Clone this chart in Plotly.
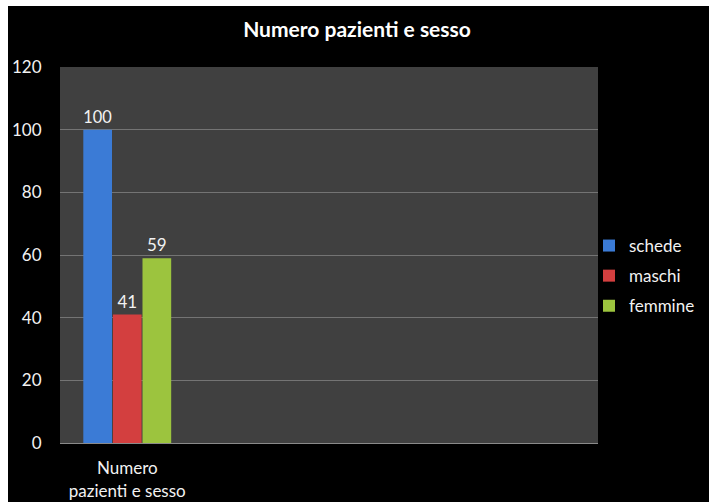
import plotly.graph_objects as go

# Data
category = ["Numero<br>pazienti e sesso"]
series_names = ["schede", "maschi", "femmine"]
series_values = [[100], [41], [59]]
series_colors = ["#3b7bd6", "#d33f3f", "#9cc43e"]
y_ticks = [0, 20, 40, 60, 80, 100, 120]

FONT = "Lato, Open Sans, sans-serif"
TXT = "#f2f2f2"

fig = go.Figure()
for name, vals, col in zip(series_names, series_values, series_colors):
    fig.add_trace(go.Bar(
        x=[0] * len(vals),
        y=vals,
        name=name,
        legendgroup=name,
        marker=dict(color=col, line=dict(color=col, width=0)),
        text=[str(v) for v in vals],
        textposition="outside",
        textfont=dict(color=TXT, size=17, family=FONT),
        cliponaxis=False,
    ))

W, H = 712, 502
ml, mr, mt, mb = 60, 114, 67, 59
pw, ph = W - ml - mr, H - mt - mb


def px_x(x):
    return (x - ml) / pw


def px_y(y):
    return (H - mb - y) / ph


# White page strips around the black chart frame
for x0, x1, y0, y1 in [(-5, 8, -5, H + 5), (709, W + 5, -5, H + 5), (-5, W + 5, -5, 6)]:
    fig.add_shape(
        type="rect", xref="paper", yref="paper", layer="above",
        x0=px_x(x0), x1=px_x(x1), y0=px_y(y1), y1=px_y(y0),
        fillcolor="white", line=dict(width=0),
    )

fig.update_layout(
    width=W, height=H,
    margin=dict(l=ml, r=mr, t=mt, b=mb, autoexpand=False),
    paper_bgcolor="black",
    plot_bgcolor="#404040",
    barmode="group",
    bargap=0.34,
    bargroupgap=0.03,
    title=dict(
        text="<b>Numero pazienti e sesso</b>",
        x=357 / W, xanchor="center",
        y=1 - 30 / H, yanchor="middle",
        font=dict(color="white", size=21, family=FONT),
    ),
    xaxis=dict(
        range=[-0.5, 3.5],
        tickvals=[0], ticktext=category,
        showgrid=False, zeroline=False,
        showline=True, linecolor="#8a8a8a", linewidth=1,
        tickfont=dict(color=TXT, size=17, family=FONT),
        ticks="outside", ticklen=10, tickcolor="rgba(0,0,0,0)",
    ),
    yaxis=dict(
        range=[0, 120],
        tickvals=y_ticks,
        showgrid=True, gridcolor="#747474", gridwidth=1,
        zeroline=False,
        tickfont=dict(color=TXT, size=17, family=FONT),
        ticks="outside", ticklen=14, tickcolor="rgba(0,0,0,0)",
    ),
    legend=dict(
        x=px_x(589), xanchor="left",
        y=px_y(228), yanchor="top",
        bgcolor="rgba(0,0,0,0)",
        font=dict(color=TXT, size=17, family=FONT),
        itemwidth=30,
        traceorder="grouped",
        tracegroupgap=5,
    ),
    showlegend=True,
)

fig.write_html("out.html")
